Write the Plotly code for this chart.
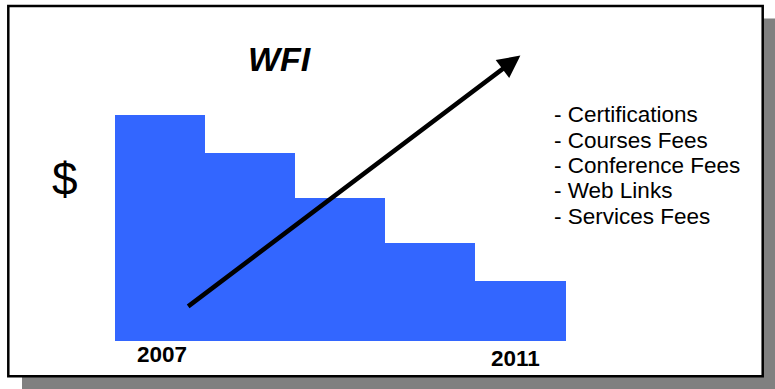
import plotly.graph_objects as go

# Yearly fee revenue per year (arbitrary $ units, stepping down)
years = [2007, 2008, 2009, 2010, 2011]
revenue = [225.5, 187.5, 142.5, 97.5, 59.5]

# Rising trend arrow across the period (tail -> head)
trend_x = [2007.3, 2011.0]
trend_y = [33, 285]

income_items = [
    "- Certifications",
    "- Courses Fees",
    "- Conference Fees",
    "- Web Links",
    "- Services Fees",
]
year_labels = ["2007", "2011"]

W, H = 775, 389
PX_PER_YEAR = 90.2
LEFT_EDGE_PX = 114.5
BASE_PX = 340.5

x0 = (years[0] - 0.5) - LEFT_EDGE_PX / PX_PER_YEAR
x1 = x0 + W / PX_PER_YEAR
y_range = [-(H - BASE_PX), BASE_PX]

FONT = "Liberation Sans, Arial, sans-serif"


def px(x):
    return x / W


def py(y):
    return 1 - y / H


fig = go.Figure()
fig.add_trace(go.Bar(
    x=years,
    y=revenue,
    width=1,
    marker=dict(color="#3366FF", line=dict(width=0)),
    hoverinfo="skip",
))

shapes = [
    # drop shadow behind the frame
    dict(type="rect", xref="paper", yref="paper",
         x0=px(22), x1=px(W + 5), y0=py(H + 5), y1=py(18.5),
         fillcolor="#808080", line=dict(width=0), layer="below"),
    # framed panel
    dict(type="rect", xref="paper", yref="paper",
         x0=px(8.3), x1=px(762.7), y0=py(376.2), y1=py(6),
         fillcolor="white", line=dict(color="black", width=2.5), layer="below"),
]

annotations = [
    dict(text="<b><i>WFI</i></b>", xref="paper", yref="paper",
         x=px(280), y=py(59), xanchor="center", yanchor="middle",
         showarrow=False,
         font=dict(family=FONT, size=34, color="black")),
    dict(text="$", xref="paper", yref="paper",
         x=px(65), y=py(179), xanchor="center", yanchor="middle",
         showarrow=False,
         font=dict(family=FONT, size=46, color="black")),
    # trend arrow
    dict(x=trend_x[1], y=trend_y[1], ax=trend_x[0], ay=trend_y[0],
         xref="x", yref="y", axref="x", ayref="y", text="",
         showarrow=True, arrowhead=2, arrowsize=1.0, arrowwidth=4.5,
         arrowcolor="black", standoff=0, startstandoff=0),
    dict(text="<b>%s</b>" % year_labels[0], x=years[0], y=-14,
         xref="x", yref="y", xshift=2, showarrow=False,
         font=dict(family=FONT, size=22.5, color="black")),
    dict(text="<b>%s</b>" % year_labels[1], x=years[-1], y=-18,
         xref="x", yref="y", xshift=-5, showarrow=False,
         font=dict(family=FONT, size=22.5, color="black")),
]

for i, item in enumerate(income_items):
    annotations.append(dict(
        text=item, xref="paper", yref="paper",
        x=px(552), y=py(115 + i * 25.3), xanchor="left", yanchor="middle",
        showarrow=False, font=dict(family=FONT, size=22.5, color="black"),
    ))

fig.update_layout(
    width=W, height=H,
    margin=dict(l=0, r=0, t=0, b=0),
    paper_bgcolor="white",
    plot_bgcolor="rgba(0,0,0,0)",
    showlegend=False,
    bargap=0,
    xaxis=dict(range=[x0, x1], visible=False, fixedrange=True),
    yaxis=dict(range=y_range, visible=False, fixedrange=True),
    shapes=shapes,
    annotations=annotations,
)

fig.write_html("out.html", config={"displayModeBar": False})
